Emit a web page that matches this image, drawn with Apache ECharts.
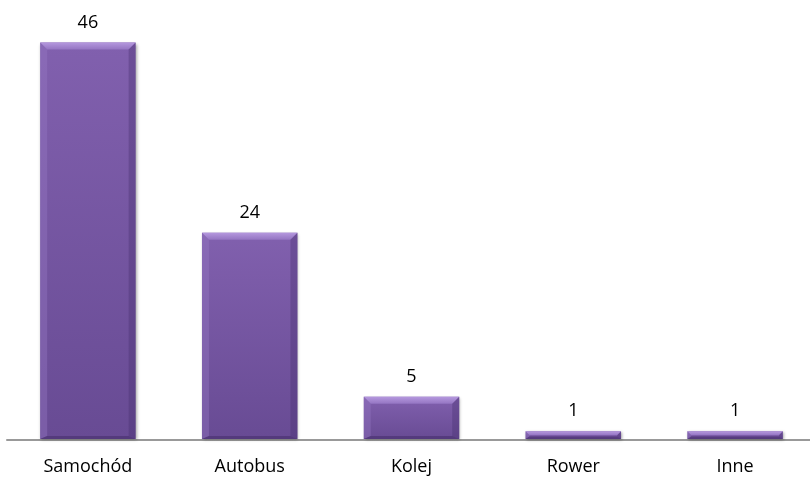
<!DOCTYPE html>
<html>
<head>
<meta charset="utf-8">
<script src="https://cdn.jsdelivr.net/npm/echarts@6/dist/echarts.min.js"></script>
<style>
  html, body { margin: 0; padding: 0; background: #fff; overflow: hidden; }
  #chart { width: 818px; height: 481px; }
</style>
</head>
<body>
<div id="chart"></div>
<script>
const categories = ['Samochód', 'Autobus', 'Kolej', 'Rower', 'Inne']
const values = [46, 24, 5, 1, 1]

const myChart = echarts.init(document.getElementById('chart'))

// bevelled bar, drawn through the axis scales
function renderBar(params, api) {
  const idx = api.value(0)
  const val = api.value(1)
  const top = api.coord([idx, val])
  const base = api.coord([idx, 0])
  const w = api.size([1, 0])[0] * 0.59
  const x0 = top[0] - w / 2
  const x1 = top[0] + w / 2
  const y0 = top[1]
  const y1 = base[1] - 1
  const h = y1 - y0
  const b = Math.min(7, h / 2)
  const bb = Math.min(3, h / 3)
  return {
    type: 'group',
    children: [
      {
        type: 'rect',
        shape: { x: x0, y: y0, width: w, height: h },
        style: {
          fill: new echarts.graphic.LinearGradient(0, 0, 0, 1, [
            { offset: 0, color: '#8160ae' },
            { offset: 1, color: '#684b94' }
          ]),
          shadowBlur: 3,
          shadowColor: 'rgba(0,0,0,0.35)',
          shadowOffsetX: 1,
          shadowOffsetY: 1
        }
      },
      {
        type: 'polygon',
        shape: { points: [[x0, y0], [x1, y0], [x1 - b, y0 + b], [x0 + b, y0 + b]] },
        style: {
          fill: new echarts.graphic.LinearGradient(0, 0, 0, 1, [
            { offset: 0, color: '#b598de' },
            { offset: 1, color: '#9475c2' }
          ])
        }
      },
      {
        type: 'polygon',
        shape: { points: [[x0, y0], [x0 + b, y0 + b], [x0 + b, y1 - bb], [x0, y1]] },
        style: { fill: 'rgba(150,120,195,0.4)' }
      },
      {
        type: 'polygon',
        shape: { points: [[x1, y0], [x1 - b, y0 + b], [x1 - b, y1 - bb], [x1, y1]] },
        style: { fill: 'rgba(70,45,110,0.35)' }
      },
      {
        type: 'polygon',
        shape: { points: [[x0, y1], [x0 + b, y1 - bb], [x1 - b, y1 - bb], [x1, y1]] },
        style: { fill: 'rgba(60,38,95,0.45)' }
      },
      {
        type: 'text',
        style: {
          text: String(val),
          x: top[0],
          y: y0 - 11,
          align: 'center',
          verticalAlign: 'bottom',
          fill: '#000',
          font: '18px "Open Sans", sans-serif'
        }
      }
    ]
  }
}

const options = {
  animation: false,
  grid: {
    left: 7,
    right: 2,
    top: 8,
    bottom: 41
  },
  xAxis: {
    type: 'category',
    data: categories,
    axisLine: { lineStyle: { color: '#999', width: 2 } },
    axisTick: { show: false },
    axisLabel: {
      color: '#000',
      fontSize: 18,
      fontFamily: 'Open Sans',
      margin: 18
    }
  },
  yAxis: {
    type: 'value',
    min: 0,
    max: 50,
    show: false,
    splitLine: { show: false }
  },
  series: [
    {
      type: 'custom',
      renderItem: renderBar,
      encode: { x: 0, y: 1 },
      data: values.map((v, i) => [i, v])
    }
  ]
}
myChart.setOption(options)
</script>
</body>
</html>
